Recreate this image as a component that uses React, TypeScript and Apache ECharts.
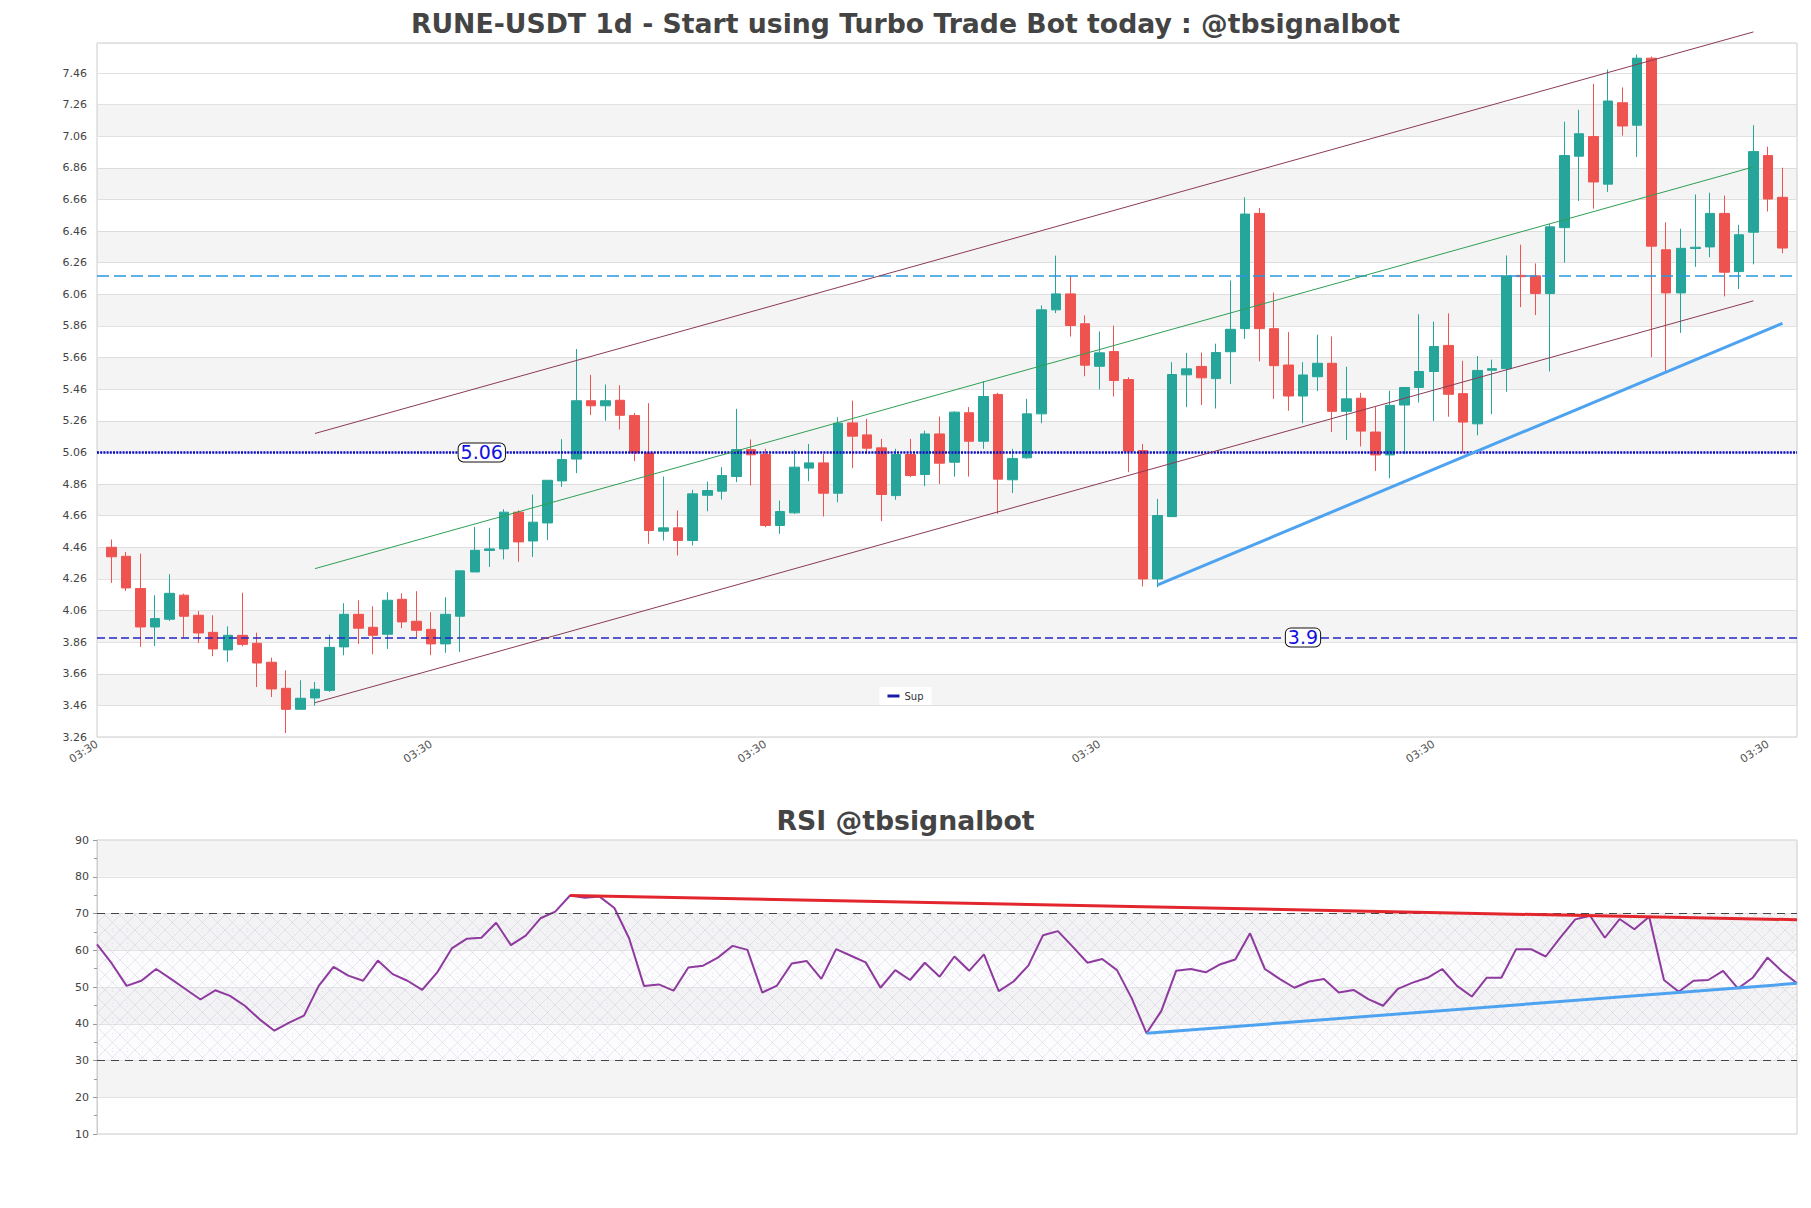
import React, { useEffect, useRef } from "react";
import * as echarts from "echarts";

// ---------- data ----------
const OPEN = [
  4.46, 4.403, 4.199, 3.956, 4.005, 4.157, 4.03, 3.922, 3.811, 3.903,
  3.853, 3.733, 3.568, 3.435, 3.507, 3.555, 3.83, 4.036, 3.954, 3.91,
  4.131, 3.992, 3.941, 3.849, 4.024, 4.304, 4.44, 4.45, 4.682, 4.5,
  4.614, 4.88, 5.018, 5.387, 5.355, 5.39, 5.294, 5.057, 4.562, 4.583,
  4.503, 4.789, 4.815, 4.908, 5.078, 5.047, 4.598, 4.678, 4.961, 4.994,
  4.802, 5.247, 5.171, 5.089, 4.787, 5.047, 4.92, 5.177, 4.998, 5.311,
  5.131, 5.427, 4.887, 5.026, 5.304, 5.962, 6.063, 5.874, 5.605, 5.698,
  5.521, 5.072, 4.26, 4.654, 5.551, 5.604, 5.527, 5.697, 5.843, 6.572,
  5.843, 5.613, 5.417, 5.539, 5.624, 5.32, 5.403, 5.189, 5.044, 5.36,
  5.471, 5.572, 5.737, 5.432, 5.241, 5.58, 5.59, 6.18, 6.177, 6.065,
  6.482, 6.934, 7.058, 6.757, 7.272, 7.13, 7.554, 6.342, 6.069, 6.35,
  6.36, 6.572, 6.204, 6.453, 6.938, 6.674,
];
const CLOSE = [
  4.4, 4.203, 3.956, 4.009, 4.169, 4.024, 3.918, 3.817, 3.903, 3.846,
  3.728, 3.564, 3.435, 3.505, 3.562, 3.827, 4.036, 3.948, 3.903, 4.125,
  3.988, 3.935, 3.849, 4.036, 4.311, 4.441, 4.45, 4.682, 4.494, 4.619,
  4.884, 5.015, 5.387, 5.355, 5.387, 5.295, 5.057, 4.566, 4.583, 4.503,
  4.798, 4.819, 4.914, 5.078, 5.045, 4.598, 4.686, 4.967, 4.994, 4.802,
  5.245, 5.163, 5.087, 4.794, 5.047, 4.914, 5.177, 4.992, 5.315, 5.131,
  5.414, 4.891, 5.022, 5.304, 5.962, 6.063, 5.863, 5.612, 5.69, 5.515,
  5.068, 4.26, 4.661, 5.553, 5.589, 5.532, 5.692, 5.839, 6.568, 5.843,
  5.609, 5.417, 5.55, 5.624, 5.32, 5.399, 5.195, 5.044, 5.358, 5.471,
  5.572, 5.73, 5.428, 5.252, 5.579, 5.59, 6.177, 6.172, 6.065, 6.487,
  6.938, 7.076, 6.771, 7.283, 7.125, 7.554, 6.365, 6.069, 6.351, 6.358,
  6.572, 6.2, 6.437, 6.963, 6.663, 6.353,
];
const LOW = [
  4.235, 4.184, 3.83, 3.836, 3.994, 3.889, 3.855, 3.771, 3.735, 3.834,
  3.576, 3.513, 3.285, 3.435, 3.458, 3.545, 3.777, 3.849, 3.783, 3.817,
  3.948, 3.889, 3.777, 3.792, 3.798, 4.304, 4.336, 4.384, 4.368, 4.399,
  4.505, 4.842, 4.929, 5.296, 5.26, 5.205, 5.005, 4.482, 4.503, 4.408,
  4.471, 4.688, 4.762, 4.872, 4.851, 4.587, 4.545, 4.671, 4.878, 4.655,
  4.745, 4.96, 5.051, 4.625, 4.76, 4.904, 4.847, 4.861, 4.907, 4.907,
  5.083, 4.672, 4.803, 5.019, 5.245, 5.941, 5.793, 5.542, 5.458, 5.414,
  4.935, 4.212, 4.208, 4.654, 5.346, 5.36, 5.338, 5.493, 5.778, 5.636,
  5.399, 5.324, 5.245, 5.448, 5.189, 5.139, 5.098, 4.943, 4.897, 5.049,
  5.376, 5.259, 5.286, 5.06, 5.168, 5.302, 5.444, 5.979, 5.929, 5.572,
  6.261, 6.651, 6.602, 6.708, 7.064, 6.929, 5.663, 5.568, 5.816, 6.234,
  6.295, 6.047, 6.094, 6.25, 6.584, 6.32,
];
const HIGH = [
  4.509, 4.431, 4.42, 4.157, 4.29, 4.167, 4.057, 4.03, 3.96, 4.173,
  3.92, 3.762, 3.682, 3.619, 3.608, 3.908, 4.106, 4.125, 4.087, 4.176,
  4.169, 4.182, 4.049, 4.144, 4.311, 4.589, 4.583, 4.701, 4.695, 4.794,
  4.884, 5.144, 5.714, 5.551, 5.49, 5.485, 5.31, 5.372, 4.908, 4.693,
  4.823, 4.876, 4.967, 5.336, 5.142, 5.083, 4.756, 5.076, 5.114, 5.051,
  5.283, 5.388, 5.273, 5.146, 5.083, 5.146, 5.198, 5.287, 5.321, 5.347,
  5.511, 5.437, 5.083, 5.399, 5.99, 6.305, 6.179, 5.927, 5.825, 5.862,
  5.536, 5.114, 4.766, 5.631, 5.69, 5.692, 5.748, 6.148, 6.674, 6.606,
  6.071, 5.821, 5.631, 5.805, 5.794, 5.602, 5.437, 5.347, 5.451, 5.471,
  5.934, 5.888, 5.94, 5.64, 5.67, 5.647, 6.306, 6.374, 6.256, 6.505,
  7.152, 7.227, 7.392, 7.482, 7.369, 7.577, 7.565, 6.516, 6.475, 6.692,
  6.703, 6.685, 6.5, 7.13, 6.994, 6.861,
];
const RSI = [
  61.6, 56.4, 50.3, 51.7, 54.9, 52.2, 49.4, 46.6, 49.1, 47.6,
  44.9, 41.2, 38.1, 40.3, 42.2, 50.3, 55.5, 53.1, 51.7, 57.2,
  53.5, 51.7, 49.2, 53.9, 60.5, 63.1, 63.4, 67.5, 61.4, 64.0,
  68.7, 70.5, 74.9, 74.3, 74.6, 71.5, 63.2, 50.3, 50.7, 49.0,
  55.3, 55.8, 58.0, 61.2, 60.1, 48.5, 50.4, 56.4, 57.1, 52.2,
  60.3, 58.5, 56.7, 49.8, 54.6, 51.9, 56.6, 52.8, 58.3, 54.4,
  58.9, 48.9, 51.5, 55.8, 64.1, 65.2, 61.0, 56.6, 57.6, 54.6,
  46.9, 37.4, 43.5, 54.4, 54.9, 54.0, 56.2, 57.5, 64.6, 54.9,
  52.2, 49.8, 51.5, 52.2, 48.5, 49.2, 46.7, 44.9, 49.5, 51.2,
  52.5, 54.9, 50.3, 47.4, 52.5, 52.5, 60.3, 60.3, 58.3, 63.5,
  68.4, 69.4, 63.4, 68.5, 65.7, 69.1, 51.9, 48.7, 51.7, 51.9,
  54.4, 49.6, 52.5, 58.0, 54.2, 51.0,
];

// price axis
const PRICE_MIN = 3.26;
const PRICE_MAX = 7.65;
const PRICE_STEP = 0.2;
const GRAY_BANDS = [
  [3.46, 3.66], [3.86, 4.06], [4.26, 4.46], [4.66, 4.86], [5.06, 5.26],
  [5.46, 5.66], [5.86, 6.06], [6.26, 6.46], [6.66, 6.86], [7.06, 7.26],
];
// horizontal levels
const LEVEL_DOTTED = 5.06;
const LEVEL_RES = 6.177;
const LEVEL_SUP = 3.89;
const LEVEL_LABELS = [
  { text: "5.06", slot: 26, value: 5.06, shift: 7 },
  { text: "3.9", slot: 83, value: 3.89, shift: 0 },
];
// trend lines: [slot, price]
const CH_UPPER = [[15, 5.18], [114, 7.72]];
const CH_MID = [[15, 4.325], [114, 6.866]];
const CH_LOWER = [[15, 3.477], [114, 6.019]];
const SUPPORT = [[73, 4.222], [116, 5.877]];
// RSI
const RSI_MIN = 10;
const RSI_MAX = 90;
const RSI_STEP = 10;
const RSI_OB = 70;
const RSI_OS = 30;
const RSI_RES = [[32, 74.9], [115, 68.3]];
const RSI_SUP = [[71, 37.4], [115, 51.0]];

const TITLE = "RUNE-USDT 1d - Start using Turbo Trade Bot today : @tbsignalbot";
const RSI_TITLE = "RSI @tbsignalbot";

const FIRST_DAY = Date.UTC(2024, 10, 5);
const DAY_MS = 86400000;
const pad = (n: number) => (n < 10 ? "0" + n : "" + n);
const dayLabel = (i: number) => {
  const d = new Date(FIRST_DAY + i * DAY_MS);
  return `${d.getUTCFullYear()}-${pad(d.getUTCMonth() + 1)}-${pad(d.getUTCDate())} 03:30`;
};
const CANDLE_DATES = OPEN.map((_, i) => dayLabel(i));
const SLOT_DATES = [dayLabel(-1), ...CANDLE_DATES, dayLabel(OPEN.length)];

const UP = "#26a69a";
const DOWN = "#ef5350";
const FONT = "DejaVu Sans, sans-serif";

function makeHatch(): string {
  const s = 15;
  const c = document.createElement("canvas");
  c.width = s;
  c.height = s;
  const g = c.getContext("2d");
  if (!g) return "";
  g.fillStyle = "rgba(232,228,238,0.14)";
  g.fillRect(0, 0, s, s);
  g.strokeStyle = "rgba(175,170,190,0.42)";
  g.lineWidth = 0.6;
  g.beginPath();
  g.moveTo(0, 0);
  g.lineTo(s, s);
  g.moveTo(s, 0);
  g.lineTo(0, s);
  g.stroke();
  g.fillStyle = "rgba(190,185,200,0.35)";
  g.fillRect(7, 1, 1, 1);
  g.fillRect(7, 13, 1, 1);
  return c.toDataURL();
}

export default function App() {
  const ref = useRef<HTMLDivElement>(null);
  useEffect(() => {
    if (!ref.current) return;
    const chart = echarts.init(ref.current, null, { renderer: "svg" });
    const hatch = makeHatch();
    const candleData: any[] = [
      "-",
      ...OPEN.map((o, i) => [o, CLOSE[i], LOW[i], HIGH[i]]),
      "-",
    ];
    const trend = (name: string, data: number[][], color: string, width: number, xi: number, z = 6) => ({
      name,
      type: "line",
      xAxisIndex: xi,
      yAxisIndex: xi,
      data,
      symbol: "none",
      clip: false,
      silent: true,
      z,
      lineStyle: { color, width },
      itemStyle: { color },
    });
    const option: any = {
      animation: false,
      backgroundColor: "#fff",
      textStyle: { fontFamily: FONT },
      title: [
        {
          text: TITLE,
          left: "center",
          top: 5,
          textStyle: { fontSize: 26.7, fontWeight: "bold", color: "#444", fontFamily: FONT },
        },
        {
          text: RSI_TITLE,
          left: "center",
          top: 802,
          textStyle: { fontSize: 26.7, fontWeight: "bold", color: "#444", fontFamily: FONT },
        },
      ],
      legend: {
        data: ["Sup"],
        left: "center",
        top: 687,
        icon: "rect",
        itemWidth: 12,
        itemHeight: 3,
        backgroundColor: "#fff",
        padding: [4, 8],
        textStyle: { fontSize: 10, color: "#333", fontFamily: FONT },
      },
      grid: [
        { left: 97, right: 14, top: 43, height: 694, show: true, borderColor: "#ccc", borderWidth: 1 },
        { left: 97, right: 14, top: 840, height: 294, show: true, borderColor: "#ccc", borderWidth: 1 },
      ],
      xAxis: [
        {
          type: "category",
          gridIndex: 0,
          data: SLOT_DATES,
          boundaryGap: false,
          axisLine: { show: false },
          axisTick: { show: false },
          splitLine: { show: false },
          axisLabel: {
            interval: 22,
            rotate: 33,
            fontSize: 11,
            color: "#555",
            margin: 6,
            formatter: (v: string) => v.slice(-5),
          },
        },
        {
          type: "category",
          gridIndex: 1,
          data: CANDLE_DATES,
          boundaryGap: false,
          show: false,
        },
      ],
      yAxis: [
        {
          type: "value",
          gridIndex: 0,
          min: PRICE_MIN,
          max: PRICE_MAX,
          interval: PRICE_STEP,
          axisLine: { show: false },
          axisTick: { show: false },
          splitArea: { show: false },
          splitLine: { lineStyle: { color: "#e2e2e2" } },
          axisLabel: {
            fontSize: 11,
            color: "#444",
            margin: 10,
            showMaxLabel: false,
            formatter: (v: number) => v.toFixed(2),
          },
        },
        {
          type: "value",
          gridIndex: 1,
          min: RSI_MIN,
          max: RSI_MAX,
          interval: RSI_STEP,
          axisLine: { show: true, lineStyle: { color: "#ccc" } },
          axisTick: { show: true, length: 4, lineStyle: { color: "#999" } },
          minorTick: { show: true, splitNumber: 2, length: 3, lineStyle: { color: "#999" } },
          splitLine: { lineStyle: { color: "#e2e2e2" } },
          splitArea: {
            show: true,
            areaStyle: { color: ["rgba(255,255,255,0)", "rgba(200,200,200,0.2)"] },
          },
          axisLabel: { fontSize: 11, color: "#444", margin: 8 },
        },
      ],
      series: [
        {
          name: "bands",
          type: "line",
          xAxisIndex: 0,
          yAxisIndex: 0,
          data: [],
          silent: true,
          z: 1,
          markArea: {
            silent: true,
            itemStyle: { color: "rgba(200,200,200,0.2)" },
            data: GRAY_BANDS.map(([a, b]) => [{ yAxis: a }, { yAxis: b }]),
          },
          markLine: {
            silent: true,
            symbol: ["none", "none"],
            label: { show: false },
            data: [
              { yAxis: LEVEL_DOTTED, lineStyle: { color: "#0c0cc4", width: 2.5, type: [2, 1.2] } },
              { yAxis: LEVEL_RES, lineStyle: { color: "#2a98dc", width: 1.5, type: [12, 5] } },
            ],
          },
        },
        {
          name: "Sup",
          type: "line",
          xAxisIndex: 0,
          yAxisIndex: 0,
          data: [],
          z: 1,
          itemStyle: { color: "#1a1aa8" },
          lineStyle: { color: "#1a1aa8" },
          markLine: {
            silent: true,
            symbol: ["none", "none"],
            label: { show: false },
            data: [{ yAxis: LEVEL_SUP, lineStyle: { color: "#2424c4", width: 1.5, type: [8, 4] } }],
          },
        },
        {
          name: "price",
          type: "candlestick",
          xAxisIndex: 0,
          yAxisIndex: 0,
          data: candleData,
          barWidth: 10,
          z: 3,
          itemStyle: {
            color: UP,
            color0: DOWN,
            borderColor: UP,
            borderColor0: DOWN,
            borderWidth: 1,
          },
        },
        trend("chUpper", CH_UPPER, "#8b3a56", 1, 0),
        trend("chLower", CH_LOWER, "#8b3a56", 1, 0),
        trend("chMid", CH_MID, "#2f9e55", 1, 0),
        trend("support", SUPPORT, "#4ea3f0", 3, 0),
        {
          name: "labels",
          type: "line",
          xAxisIndex: 0,
          yAxisIndex: 0,
          data: [],
          z: 10,
          markPoint: {
            symbol: "rect",
            symbolSize: 1,
            silent: true,
            itemStyle: { color: "rgba(0,0,0,0)" },
            label: {
              show: true,
              position: "inside",
              formatter: "{b}",
              color: "#1212e0",
              fontSize: 19,
              fontFamily: FONT,
              backgroundColor: "#fff",
              borderColor: "#111",
              borderWidth: 1,
              borderRadius: 5,
              padding: [0, 2, -1, 2],
            },
            data: LEVEL_LABELS.map((l) => ({
              name: l.text,
              coord: [l.slot, l.value],
              label: { offset: [l.shift, 0] },
            })),
          },
        },
        {
          name: "RSI",
          type: "line",
          xAxisIndex: 1,
          yAxisIndex: 1,
          data: RSI,
          symbol: "none",
          z: 4,
          lineStyle: { color: "#8e3a9e", width: 2 },
          itemStyle: { color: "#8e3a9e" },
          markArea: {
            silent: true,
            itemStyle: {
              color: { image: hatch, repeat: "repeat", imageWidth: 15, imageHeight: 15 },
            },
            data: [[{ yAxis: RSI_OS }, { yAxis: RSI_OB }]],
          },
          markLine: {
            silent: true,
            symbol: ["none", "none"],
            label: { show: false },
            lineStyle: { color: "#444", width: 1.2, type: [8, 6] },
            data: [{ yAxis: RSI_OB }, { yAxis: RSI_OS }],
          },
        },
        trend("rsiRes", RSI_RES, "#e3262e", 3, 1),
        trend("rsiSup", RSI_SUP, "#4ea3f0", 3, 1),
      ],
    };
    chart.setOption(option);
    return () => chart.dispose();
  }, []);
  return (
    <div
      ref={ref}
      style={{ position: "absolute", left: 0, top: 0, width: 1811, height: 1208 }}
    />
  );
}
